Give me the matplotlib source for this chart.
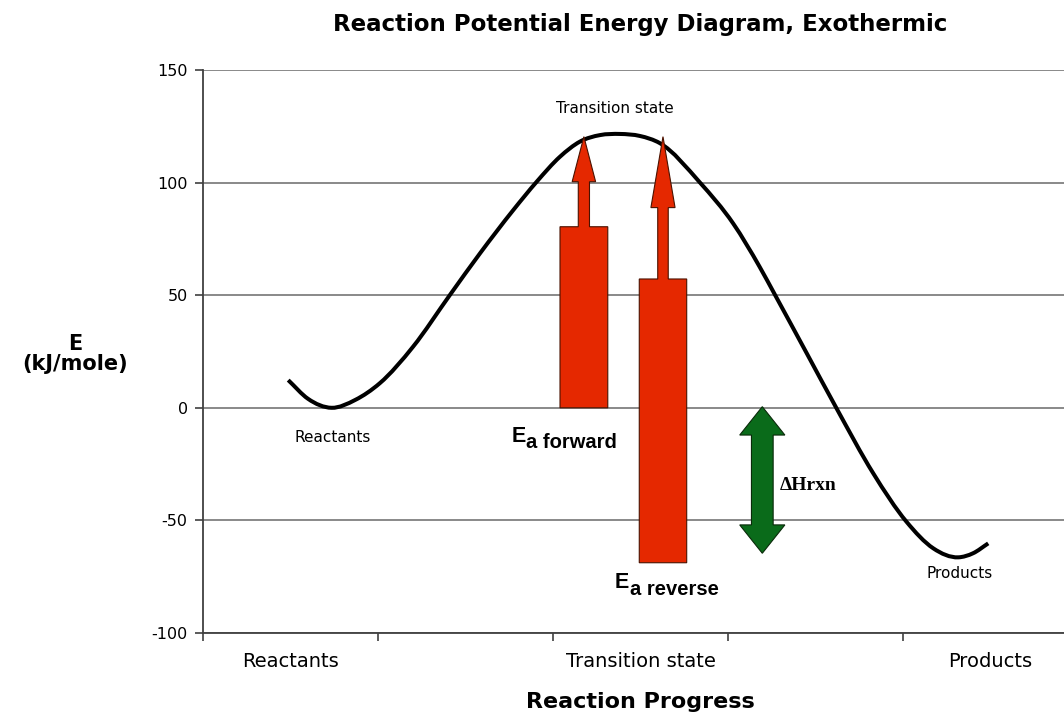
import numpy as np
import matplotlib
matplotlib.use("Agg")
import matplotlib.pyplot as plt
from matplotlib.patches import Polygon, PathPatch
from matplotlib.path import Path

# energy profile (x in category units, E in kJ/mole)
curve_x = [0.487, 0.60, 0.735, 0.87, 1.01, 1.20, 1.41, 1.583, 1.773, 1.907, 2.04,
           2.154, 2.269, 2.383, 2.497, 2.611, 2.84, 3.03, 3.18, 3.269, 3.45, 3.62,
           3.83, 4.02, 4.173, 4.316, 4.40, 4.487]
curve_e = [12.3, 4.0, 0.0, 3.5, 10.9, 27.1, 50.0, 68.6, 87.8, 100.4, 111.5,
           118.2, 121.1, 121.6, 120.7, 117.5, 100.0, 81.8, 62.7, 50.1, 24.2, -0.2,
           -29.1, -50.6, -62.4, -66.4, -64.6, -60.2]

categories = ["Reactants", "", "Transition state", "", "Products"]
y_ticks = [-100, -50, 0, 50, 100, 150]

# red activation-energy arrows: [left, right] of the block, block bottom/top,
# head base, tip
ea_fwd_x = [2.04, 2.313]
ea_fwd_levels = [0.0, 80.4, 100.4, 120.4]
ea_rev_x = [2.493, 2.764]
ea_rev_levels = [-68.8, 57.2, 88.9, 120.4]
# green enthalpy double arrow: centre x, top tip, top head base, bottom head base, bottom tip
dh_x = 3.196
dh_levels = [0.5, -12.1, -52.0, -64.6]

point_labels = [("Transition state", 2.353, 132.8),
                ("Reactants", 0.74, -13.0),
                ("Products", 4.323, -73.8)]

RED = "#E52800"
GREEN = "#0A6B1A"
GRID = "#808080"


def smooth_path(xs, ys):
    # smoothed line through the read points: cubic hermite segments drawn as beziers
    x = np.asarray(xs, float)
    y = np.asarray(ys, float)
    h = np.diff(x)
    s = np.diff(y) / h
    m = np.empty_like(y)
    m[0], m[-1] = s[0], s[-1]
    m[1:-1] = (h[1:] * s[:-1] + h[:-1] * s[1:]) / (h[:-1] + h[1:])
    verts = [(x[0], y[0])]
    codes = [Path.MOVETO]
    for i in range(len(x) - 1):
        d = h[i] / 3
        verts += [(x[i] + d, y[i] + m[i] * d),
                  (x[i + 1] - d, y[i + 1] - m[i + 1] * d),
                  (x[i + 1], y[i + 1])]
        codes += [Path.CURVE4] * 3
    return Path(verts, codes)


def up_arrow(xs, levels, shaft_hw, head_hw):
    x0, x1 = xs
    xc = (x0 + x1) / 2
    base, top, head, tip = levels
    pts = [(x0, base), (x1, base), (x1, top), (xc + shaft_hw, top),
           (xc + shaft_hw, head), (xc + head_hw, head), (xc, tip),
           (xc - head_hw, head), (xc - shaft_hw, head), (xc - shaft_hw, top),
           (x0, top)]
    return Polygon(pts, closed=True, facecolor=RED, edgecolor="#4a1200",
                   lw=0.8, zorder=4)


def double_arrow(xc, levels, shaft_hw, head_hw):
    t_tip, t_head, b_head, b_tip = levels
    pts = [(xc, t_tip), (xc + head_hw, t_head), (xc + shaft_hw, t_head),
           (xc + shaft_hw, b_head), (xc + head_hw, b_head), (xc, b_tip),
           (xc - head_hw, b_head), (xc - shaft_hw, b_head),
           (xc - shaft_hw, t_head), (xc - head_hw, t_head)]
    return Polygon(pts, closed=True, facecolor=GREEN, edgecolor="#0a2a0a",
                   lw=0.8, zorder=4)


plt.rcParams['font.family'] = 'DejaVu Sans'
plt.rcParams['axes.unicode_minus'] = False
fig = plt.figure(figsize=(10.64, 7.15), dpi=100)
ax = fig.add_axes([203 / 1064, 82 / 715, 875 / 1064, 563 / 715])

ax.set_xlim(0, len(categories))
ax.set_ylim(y_ticks[0], y_ticks[-1])
ax.set_yticks(y_ticks)
ax.yaxis.grid(True, color=GRID, lw=1.3, zorder=0)
ax.set_axisbelow(True)

ax.set_xticks(np.arange(len(categories) + 1))
ax.set_xticklabels([])
ax.set_xticks(np.arange(len(categories)) + 0.5, minor=True)
ax.set_xticklabels(categories, minor=True, fontsize=14)
ax.tick_params(axis='x', which='minor', length=0, pad=14)
ax.tick_params(axis='x', which='major', length=6, width=1.2, color="#404040")
ax.tick_params(axis='y', length=6, width=1.2, color="#404040", labelsize=11.5, pad=5)

for s in ["top", "right"]:
    ax.spines[s].set_visible(False)
for s in ["left", "bottom"]:
    ax.spines[s].set_color("#404040")
    ax.spines[s].set_linewidth(1.3)

ax.add_patch(PathPatch(smooth_path(curve_x, curve_e), facecolor='none',
                       edgecolor='black', lw=2.9, capstyle='butt', zorder=3))

ax.add_patch(up_arrow(ea_fwd_x, ea_fwd_levels, 0.032, 0.067))
ax.add_patch(up_arrow(ea_rev_x, ea_rev_levels, 0.030, 0.069))
ax.add_patch(double_arrow(dh_x, dh_levels, 0.062, 0.129))

for txt, x, y in point_labels:
    ax.text(x, y, txt, ha='center', va='center', fontsize=11, zorder=5)

# E_a labels: subscript same size, dropped below the baseline
sans = ['Liberation Sans', 'DejaVu Sans']
for x, y, sub in [(1.764, -15.1, "a forward"), (2.354, -80.1, "a reverse")]:
    ax.text(x, y, "E", family=sans, fontweight='bold', fontsize=15.5,
            va='baseline', ha='left', zorder=5)
    ax.annotate(sub, xy=(x, y), xytext=(10.6, -4.8), textcoords='offset points',
                family=sans, fontweight='bold', fontsize=14.5,
                va='baseline', ha='left', zorder=5)

ax.text(3.297, -36.5, "ΔHrxn", family=['Liberation Serif', 'DejaVu Serif'],
        fontweight='bold', fontsize=14, va='baseline', ha='left', zorder=5)

fig.text(640 / 1064, 1 - 25 / 715, "Reaction Potential Energy Diagram, Exothermic",
         ha='center', va='center', fontsize=16.5, fontweight='bold')
fig.text(75 / 1064, 1 - 354 / 715, "E\n(kJ/mole)", ha='center', va='center',
         fontsize=15, fontweight='bold', linespacing=1.05)
fig.text(640 / 1064, 1 - 702 / 715, "Reaction Progress", ha='center',
         va='center', fontsize=16, fontweight='bold')

fig.savefig("out.png", dpi=100)
